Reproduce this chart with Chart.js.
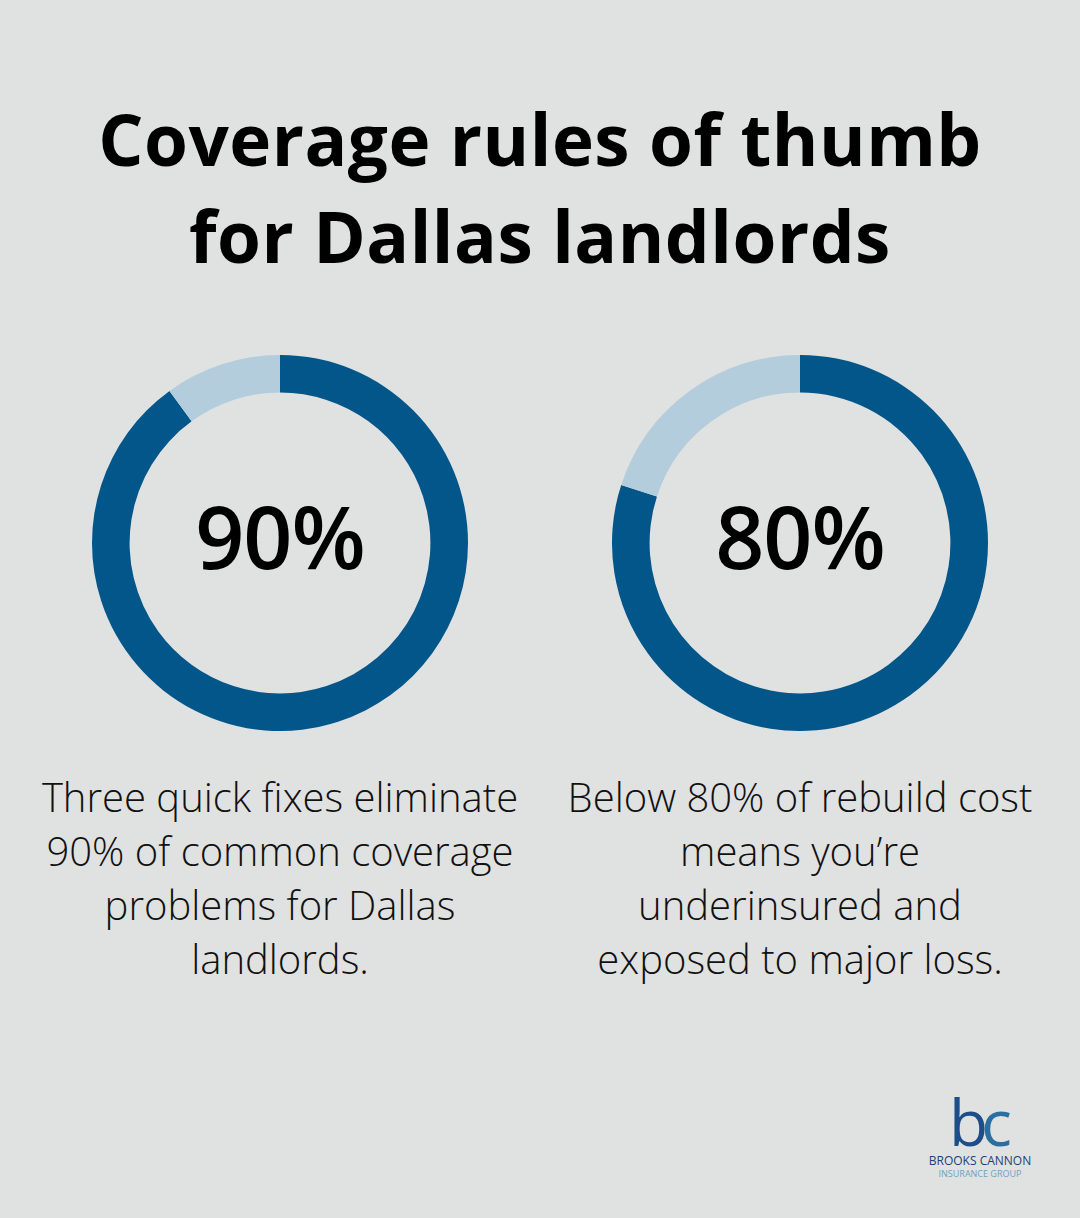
<!DOCTYPE html>
<html><head><meta charset="utf-8">
<script src="https://cdn.jsdelivr.net/npm/chart.js@4.4.0/dist/chart.umd.min.js"></script>
<style>
html,body{margin:0;padding:0;background:#e0e2e1;width:1080px;height:1218px;overflow:hidden;font-family:"Open Sans",sans-serif;}
#title{position:absolute;left:0;top:90px;width:1080px;text-align:center;font-weight:700;font-size:71px;line-height:97px;color:#000;letter-spacing:0.5px;}
.wrap{position:absolute;top:355px;width:376px;height:376px;}
.center{position:absolute;left:0;top:-8px;width:376px;height:376px;display:flex;align-items:center;justify-content:center;font-size:86px;color:#000;font-weight:600;letter-spacing:-1px;pointer-events:none;}
.desc{position:absolute;top:770px;width:540px;text-align:center;font-weight:300;font-size:40px;line-height:54px;color:#111;}
#logo{position:absolute;left:920px;top:1094px;width:120px;text-align:center;}
</style></head>
<body>
<div id="title">Coverage rules of thumb<br>for Dallas landlords</div>
<div class="wrap" style="left:92px"><canvas id="c1" width="376" height="376"></canvas><div class="center" id="t1"></div></div>
<div class="wrap" style="left:612px"><canvas id="c2" width="376" height="376"></canvas><div class="center" id="t2"></div></div>
<div class="desc" style="left:10px" id="d1"></div>
<div class="desc" style="left:530px" id="d2"></div>
<div id="logo">
<div style="font-family:'Open Sans';font-size:64px;line-height:56px;color:#1d4e89;letter-spacing:-7px;font-weight:400;margin-left:-6px;">b<span style="color:#2a6f9f">c</span></div>
<div style="font-size:12px;line-height:14px;color:#1d3f75;margin-top:4px;white-space:nowrap;">BROOKS CANNON</div>
<div style="font-size:9px;line-height:11px;color:#6aa3c5;white-space:nowrap;">INSURANCE GROUP</div>
</div>
<script>
const segLabels = ["Share", "Remainder"];
const percents = [90, 80];
const remainders = [10, 20];
const centerLabels = ["90%", "80%"];
const descriptions = [
  "Three quick fixes eliminate<br>90% of common coverage<br>problems for Dallas<br>landlords.",
  "Below 80% of rebuild cost<br>means you\u2019re<br>underinsured and<br>exposed to major loss."
];
const darkBlue = "#03568a";
const lightBlue = "#b3cddc";

function makeChart(id, i){
  new Chart(document.getElementById(id), {
    type: "doughnut",
    data: { labels: segLabels, datasets: [{ data: [percents[i], remainders[i]], backgroundColor: [darkBlue, lightBlue], borderWidth: 0, hoverOffset: 0 }] },
    options: {
      responsive: false, animation: false, cutout: "80%",
      layout: { padding: 0 },
      plugins: { legend: { display: false }, tooltip: { enabled: false } },
      events: []
    }
  });
}
makeChart("c1", 0);
makeChart("c2", 1);
document.getElementById("t1").textContent = centerLabels[0];
document.getElementById("t2").textContent = centerLabels[1];
document.getElementById("d1").innerHTML = descriptions[0];
document.getElementById("d2").innerHTML = descriptions[1];
</script>
</body></html>
